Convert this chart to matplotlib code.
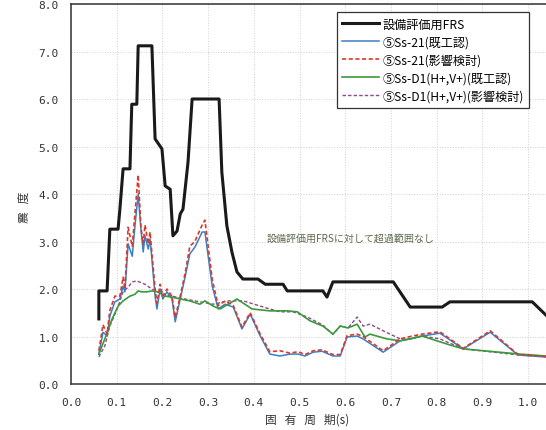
import matplotlib
matplotlib.use('Agg')
import matplotlib.pyplot as plt

plt.rcParams['font.family'] = ['Noto Sans CJK JP', 'DejaVu Sans']

# 設備評価用FRS
frs_x = [0.061, 0.061, 0.079, 0.085, 0.103, 0.107, 0.114, 0.129, 0.133, 0.144, 0.147, 0.177,
         0.184, 0.199, 0.206, 0.217, 0.223, 0.232, 0.239, 0.245, 0.256, 0.265, 0.324, 0.330,
         0.341, 0.352, 0.363, 0.376, 0.409, 0.425, 0.464, 0.473, 0.551, 0.560, 0.573, 0.705,
         0.742, 0.812, 0.829, 1.009, 1.039, 1.06]
frs_y = [1.37, 1.96, 1.96, 3.26, 3.26, 3.68, 4.53, 4.53, 5.89, 5.89, 7.12, 7.12,
         5.16, 4.95, 4.17, 4.10, 3.12, 3.22, 3.58, 3.68, 4.67, 6.00, 6.00, 4.46,
         3.33, 2.78, 2.36, 2.21, 2.21, 2.10, 2.10, 1.96, 1.96, 1.83, 2.15, 2.15,
         1.62, 1.62, 1.73, 1.73, 1.45, 1.30]

# Ss-21 (period axis shared by both cases)
ss21_x = [0.061, 0.070, 0.079, 0.085, 0.096, 0.107, 0.114, 0.118, 0.125, 0.134, 0.140, 0.147,
          0.153, 0.158, 0.162, 0.169, 0.173, 0.177, 0.184, 0.188, 0.195, 0.201, 0.210, 0.221,
          0.228, 0.239, 0.250, 0.260, 0.271, 0.287, 0.293, 0.309, 0.322, 0.337, 0.355, 0.374,
          0.392, 0.414, 0.435, 0.457, 0.479, 0.497, 0.512, 0.530, 0.549, 0.573, 0.589, 0.604,
          0.626, 0.639, 0.683, 0.720, 0.742, 0.768, 0.807, 0.858, 0.917, 0.978, 1.039, 1.07]
ss21_kiko = [0.63, 1.09, 1.01, 1.43, 1.73, 1.79, 2.06, 1.94, 2.95, 2.69, 3.33, 4.00,
             3.26, 2.78, 3.12, 2.84, 3.05, 2.63, 1.85, 1.58, 2.00, 1.79, 1.94, 1.79,
             1.31, 1.79, 2.27, 2.74, 2.88, 3.20, 3.20, 2.06, 1.58, 1.68, 1.62, 1.16,
             1.47, 1.01, 0.63, 0.59, 0.63, 0.63, 0.59, 0.67, 0.69, 0.59, 0.59, 0.99,
             1.01, 0.95, 0.67, 0.91, 0.95, 1.01, 1.07, 0.74, 1.09, 0.61, 0.57, 0.55]
ss21_eikyo = [0.70, 1.25, 1.05, 1.55, 1.85, 1.85, 2.25, 2.00, 3.30, 2.90, 3.60, 4.40,
              3.30, 2.95, 3.35, 2.95, 3.20, 2.75, 2.00, 1.70, 2.10, 1.85, 2.00, 1.85,
              1.40, 1.85, 2.35, 2.90, 3.00, 3.35, 3.45, 2.20, 1.65, 1.75, 1.65, 1.20,
              1.50, 1.05, 0.68, 0.70, 0.65, 0.68, 0.62, 0.70, 0.72, 0.62, 0.62, 1.02,
              1.05, 1.00, 0.70, 0.95, 1.00, 1.05, 1.10, 0.75, 1.12, 0.62, 0.58, 0.56]

# Ss-D1(H+,V+) 既工認
sd1_kiko_x = [0.061, 0.074, 0.090, 0.103, 0.114, 0.129, 0.140, 0.147, 0.155, 0.166, 0.177, 0.190,
              0.206, 0.221, 0.239, 0.260, 0.282, 0.293, 0.311, 0.326, 0.344, 0.363, 0.396, 0.435,
              0.473, 0.495, 0.517, 0.523, 0.551, 0.573, 0.589, 0.606, 0.626, 0.643, 0.654, 0.691,
              0.720, 0.742, 0.768, 0.823, 0.858, 0.982, 1.039, 1.07]
sd1_kiko_y = [0.63, 0.95, 1.37, 1.64, 1.75, 1.85, 1.89, 1.96, 1.94, 1.94, 1.96, 1.94,
              1.85, 1.83, 1.79, 1.75, 1.68, 1.75, 1.64, 1.58, 1.68, 1.79, 1.58, 1.54,
              1.54, 1.52, 1.37, 1.33, 1.22, 1.05, 1.22, 1.18, 1.26, 0.99, 1.05, 0.95,
              0.91, 0.95, 1.01, 0.84, 0.74, 0.63, 0.59, 0.57]

# Ss-D1(H+,V+) 影響検討
sd1_eikyo_x = [0.061, 0.074, 0.085, 0.101, 0.114, 0.125, 0.134, 0.144, 0.162, 0.177, 0.190, 0.206,
               0.221, 0.239, 0.260, 0.282, 0.311, 0.344, 0.377, 0.414, 0.435, 0.457, 0.486, 0.517,
               0.551, 0.573, 0.589, 0.606, 0.626, 0.639, 0.654, 0.683, 0.720, 0.742, 0.768, 0.807,
               0.858, 0.982, 1.039, 1.07]
sd1_eikyo_y = [0.57, 0.80, 1.22, 1.58, 1.94, 2.04, 2.15, 2.17, 2.10, 2.00, 1.94, 1.87,
               1.85, 1.81, 1.77, 1.73, 1.68, 1.75, 1.75, 1.64, 1.58, 1.52, 1.52, 1.41,
               1.24, 1.05, 1.22, 1.18, 1.41, 1.22, 1.26, 1.12, 0.95, 0.95, 1.01, 0.95,
               0.74, 0.61, 0.57, 0.55]

labels = ['設備評価用FRS', '⑤Ss-21(既工認)', '⑤Ss-21(影響検討)',
          '⑤Ss-D1(H+,V+)(既工認)', '⑤Ss-D1(H+,V+)(影響検討)']
x_ticks = [0.0, 0.1, 0.2, 0.3, 0.4, 0.5, 0.6, 0.7, 0.8, 0.9, 1.0]
y_ticks = [0, 1, 2, 3, 4, 5, 6, 7, 8]

fig = plt.figure(figsize=(5.46, 4.31), dpi=100)
ax = fig.add_axes([0.130, 0.1067, 0.921, 0.8817])

ax.plot(frs_x, frs_y, color='#1a1a1a', lw=2.2, label=labels[0], zorder=5)
ax.plot(ss21_x, ss21_kiko, color='#3b7fc4', lw=1.1, label=labels[1], zorder=3)
ax.plot(ss21_x, ss21_eikyo, color='#d8392b', lw=1.2, ls=(0, (2.5, 1.5)), label=labels[2], zorder=4)
ax.plot(sd1_kiko_x, sd1_kiko_y, color='#3a9a3a', lw=1.2, label=labels[3], zorder=3)
ax.plot(sd1_eikyo_x, sd1_eikyo_y, color='#8e4a8a', lw=1.0, ls=(0, (2.5, 1.5)), label=labels[4], zorder=2)

ax.set_xlim(0, 1.1)
ax.set_ylim(0, 8)
ax.set_xticks(x_ticks)
ax.set_xticklabels(['%.1f' % v for v in x_ticks])
ax.set_yticks(y_ticks)
ax.set_yticklabels(['%.1f' % v for v in y_ticks])
ax.tick_params(length=0, pad=9, labelsize=8, labelcolor='#333333')
for lab in ax.get_xticklabels() + ax.get_yticklabels():
    lab.set_fontfamily('DejaVu Sans Mono')

ax.grid(True, color='#d0d0d0', ls=':', lw=0.7)
for s in ax.spines.values():
    s.set_color('#333333')
    s.set_linewidth(1.1)

ax.text(0.429, 3.05, '設備評価用FRSに対して超過範囲なし', fontsize=7.2, color='#5f6b4f',
        va='center', ha='left')

leg = ax.legend(loc='upper left', bbox_to_anchor=(0.529, 0.979), borderaxespad=0,
                fontsize=8.7, handlelength=3.0, handletextpad=0.3, labelspacing=0.42,
                borderpad=0.45, fancybox=False, framealpha=1, edgecolor='#333333')
leg.get_frame().set_linewidth(0.9)

fig.text(24 / 546, 1 - 207 / 431, '震   度', rotation=90, ha='center', va='center',
         fontsize=8.5, color='#333333')
fig.text(307 / 546, 1 - 420 / 431, '固   有   周   期(s)', ha='center', va='center',
         fontsize=8.5, color='#333333')

fig.savefig('out.png', dpi=100)
